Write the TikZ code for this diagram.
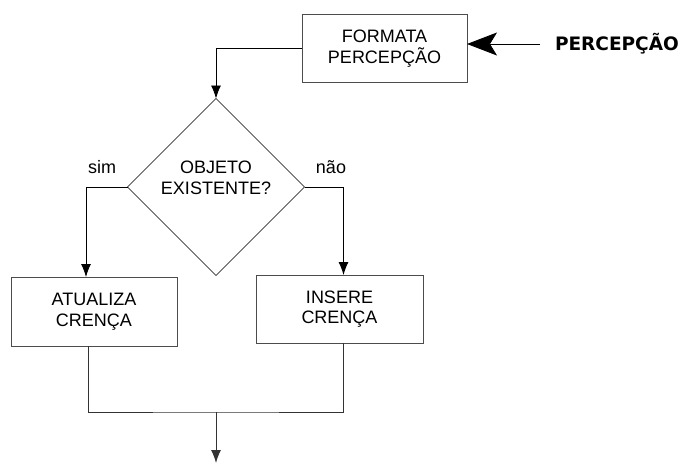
\documentclass[tikz,border=0pt]{standalone}
\usepackage{fontspec}
\setmainfont{Liberation Sans}
\newfontfamily\grossa{DejaVu Sans}
\usetikzlibrary{arrows.meta,positioning,shapes.geometric}

\begin{document}
\begin{tikzpicture}[
    x=1pt, y=-1pt,
    every node/.style={inner sep=2pt, outer sep=0pt, font=\fontsize{18}{20.5}\selectfont},
    caixa/.style={rectangle, draw=black!70, line width=1pt, align=center, minimum height=68pt},
    decisao/.style={diamond, draw=black, line width=0.6pt, minimum width=177pt, minimum height=177pt, inner sep=0pt},
    fluxo/.style={draw=black, line width=0.8pt, -{Latex[length=13pt,width=10pt]}},
    liga/.style={draw=black!80, line width=1pt},
    entrada/.style={draw=black, line width=0.8pt, -{Stealth[length=30pt,width=23pt,inset=7pt]}}
    ]
    \useasboundingbox (0,0) rectangle (682,464);
    % blocos
    \node[caixa, minimum width=165pt] (formata) at (384.5,48.5) {FORMATA\\PERCEPÇÃO};
    \node[decisao] (objeto) at (216,187) {};
    \node[align=center] (objetotxt) at ([yshift=9pt]objeto.center) {OBJETO\\EXISTENTE?};
    \node[caixa, minimum width=166pt, minimum height=69pt] (atualiza) at (94,311.5) {ATUALIZA\\CRENÇA};
    \node[caixa, minimum width=167pt] (insere) at (339.5,309) {INSERE\\CRENÇA};
    \node[anchor=west, inner sep=0pt, font=\grossa\bfseries\fontsize{18.5}{20}\selectfont] (percepcao) at (555,44) {PERCEPÇÃO};
    \node (sim) at (102,167) {sim};
    \node (nao) at (331,167) {não};
    \coordinate (junta) at (216,412);
    \coordinate (fim) at (216,463);

    % ligacoes
    \draw[entrada] ([xshift=-15pt]percepcao.west) -- (formata.east |- percepcao.west);
    \draw[fluxo] (formata.west) -| (objeto.north);
    \draw[fluxo] (objeto.west) -| ([xshift=-8pt]atualiza.north);
    \draw[fluxo] (objeto.east) -| ([xshift=4pt]insere.north);
    \draw[liga] ([xshift=-6pt]atualiza.south) |- (junta) -| ([xshift=4pt]insere.south);
    \draw[fluxo, draw=black!80, line width=1pt] (junta) -- (fim);
\end{tikzpicture}
\end{document}
